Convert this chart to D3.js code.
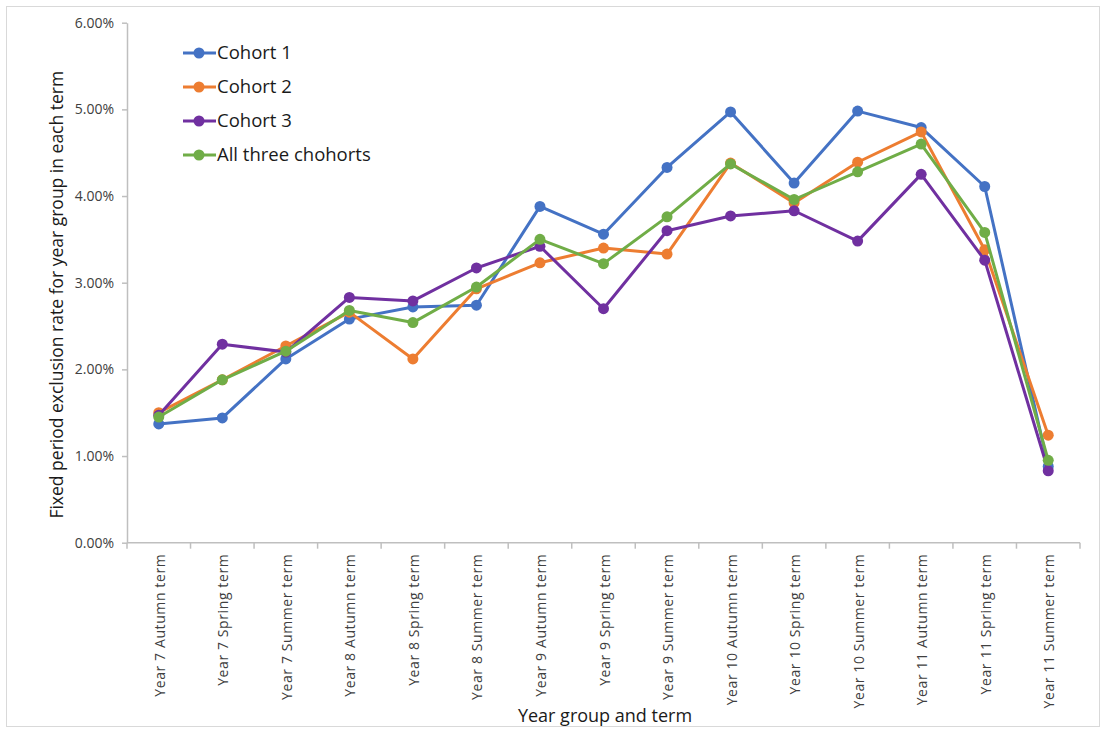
<!DOCTYPE html>
<html><head><meta charset="utf-8">
<script src="https://cdn.jsdelivr.net/npm/d3@7"></script>
<style>body{margin:0;background:#fff;}svg{display:block;}</style>
</head><body>
<svg id="chart" width="1101" height="729"></svg>
<script>
const categories = ["Year 7 Autumn term","Year 7 Spring term","Year 7 Summer term","Year 8 Autumn term","Year 8 Spring term","Year 8 Summer term","Year 9 Autumn term","Year 9 Spring term","Year 9 Summer term","Year 10 Autumn term","Year 10 Spring term","Year 10 Summer term","Year 11 Autumn term","Year 11 Spring term","Year 11 Summer term"];
const seriesNames = ["Cohort 1","Cohort 2","Cohort 3","All three chohorts"];
const cohort1 = [1.37,1.44,2.12,2.58,2.72,2.74,3.88,3.56,4.33,4.97,4.15,4.98,4.79,4.11,0.88];
const cohort2 = [1.50,1.88,2.27,2.66,2.12,2.93,3.23,3.40,3.33,4.38,3.92,4.39,4.74,3.38,1.24];
const cohort3 = [1.47,2.29,2.20,2.83,2.79,3.17,3.42,2.70,3.60,3.77,3.83,3.48,4.25,3.26,0.83];
const allThree = [1.45,1.88,2.21,2.68,2.54,2.95,3.50,3.22,3.76,4.37,3.96,4.28,4.60,3.58,0.95];
const yTicks = [0,1,2,3,4,5,6];
const colors = ["#4472C4","#ED7D31","#7030A0","#70AD47"];

const svg = d3.select("#chart");
svg.append("rect").attr("x",6.5).attr("y",6.5).attr("width",1093).attr("height",720)
  .attr("fill","#fff").attr("stroke","#d9d9d9");

const mLeft = 127, mRight = 1080, mTop = 22.7, mBottom = 542.7;
const x = d3.scaleBand().domain(categories).range([mLeft,mRight]).padding(0);
const y = d3.scaleLinear().domain([0,6]).range([mBottom,mTop]);

// y axis
const yAxis = d3.axisLeft(y).tickValues(yTicks).tickFormat(d => d3.format(".2f")(d) + "%").tickSize(5).tickSizeOuter(0);
const gy = svg.append("g").attr("transform",`translate(${mLeft},0)`).call(yAxis);
gy.select(".domain").attr("stroke","#bfbfbf").attr("stroke-width",1.5);
gy.selectAll(".tick line").attr("stroke","#bfbfbf").attr("stroke-width",1.5);
gy.selectAll(".tick text").attr("x",-13).attr("fill","#404040")
  .style("font-family","'Open Sans',sans-serif").style("font-size","14px");

// x axis
const gx = svg.append("g").attr("transform",`translate(0,${mBottom})`);
gx.append("line").attr("x1",mLeft).attr("x2",mRight).attr("stroke","#bfbfbf").attr("stroke-width",1.5);
const tickPos = categories.map(c => x(c)).concat([mRight]);
gx.selectAll(".xt").data(tickPos).enter().append("line")
  .attr("x1",d=>d).attr("x2",d=>d).attr("y1",0).attr("y2",6)
  .attr("stroke","#bfbfbf").attr("stroke-width",1.5);
gx.selectAll(".xl").data(categories).enter().append("text")
  .attr("transform",d=>`translate(${x(d)+x.bandwidth()/2+6},11) rotate(-90)`)
  .attr("text-anchor","end").attr("fill","#404040")
  .style("font-family","'Open Sans',sans-serif").style("font-size","14px")
  .style("letter-spacing","0.6px")
  .text(d=>d);

// titles
svg.append("text").attr("transform",`translate(63,${(mTop+mBottom)/2+12}) rotate(-90)`)
  .attr("text-anchor","middle").attr("fill","#1a1a1a")
  .style("font-family","'Open Sans',sans-serif").style("font-size","17.5px")
  .text("Fixed period exclusion rate for year group in each term");
svg.append("text").attr("x",605).attr("y",722).attr("text-anchor","middle").attr("fill","#1a1a1a")
  .style("font-family","'Open Sans',sans-serif").style("font-size","18px")
  .text("Year group and term");

// series
const allSeries = [cohort1,cohort2,cohort3,allThree];
const cx = c => x(c) + x.bandwidth()/2;
const line = d3.line().x((d,i)=>cx(categories[i])).y(d=>y(d));
allSeries.forEach((vals,k)=>{
  const g = svg.append("g");
  g.append("path").datum(vals).attr("d",line).attr("fill","none")
    .attr("stroke",colors[k]).attr("stroke-width",3).attr("stroke-linejoin","round");
  g.selectAll("circle").data(vals).enter().append("circle")
    .attr("cx",(d,i)=>cx(categories[i])).attr("cy",d=>y(d)).attr("r",5.5)
    .attr("fill",colors[k]);
});

// legend
const lg = svg.append("g");
seriesNames.forEach((n,i)=>{
  const yy = 53 + i*34;
  lg.append("line").attr("x1",183).attr("x2",216).attr("y1",yy).attr("y2",yy)
    .attr("stroke",colors[i]).attr("stroke-width",3);
  lg.append("circle").attr("cx",199).attr("cy",yy).attr("r",5.5).attr("fill",colors[i]);
  lg.append("text").attr("x",217).attr("y",yy+6).attr("fill","#1a1a1a")
    .style("font-family","'Open Sans',sans-serif").style("font-size","18.5px").text(n);
});
</script>
</body></html>
